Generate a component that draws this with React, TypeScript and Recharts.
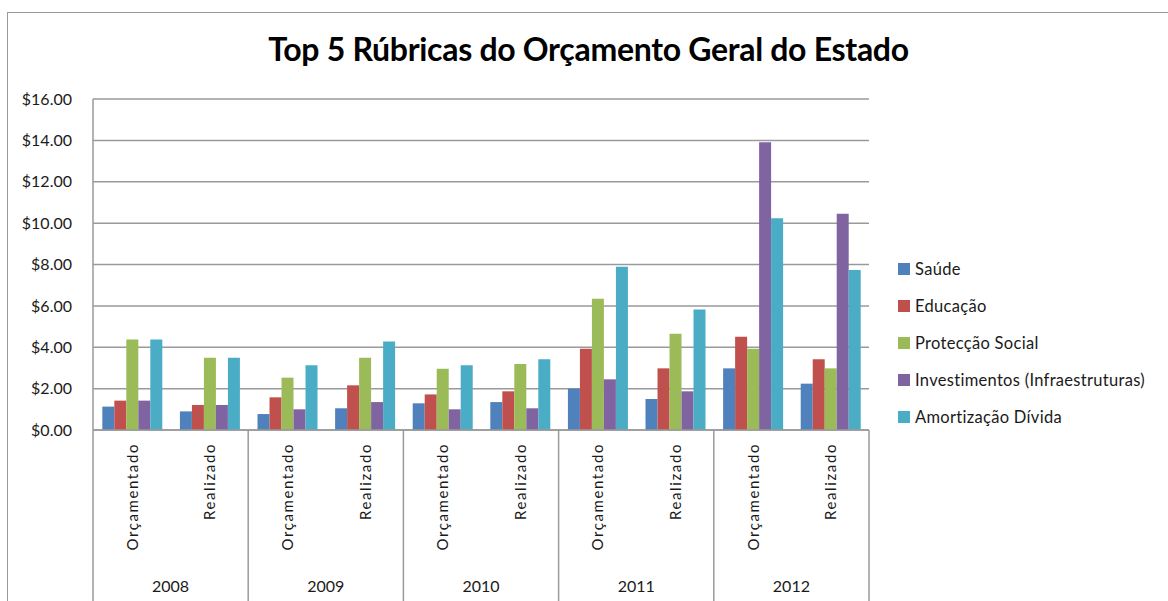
import React from 'react';
import { BarChart, Bar, XAxis, YAxis, CartesianGrid, Legend } from 'recharts';

const categories = [
  'Orçamentado', 'Realizado', 'Orçamentado', 'Realizado', 'Orçamentado',
  'Realizado', 'Orçamentado', 'Realizado', 'Orçamentado', 'Realizado',
];
const years = ['2008', '2008', '2009', '2009', '2010', '2010', '2011', '2011', '2012', '2012'];

const saude = [1.13, 0.9, 0.77, 1.05, 1.29, 1.35, 2.0, 1.5, 2.98, 2.24];
const educacao = [1.42, 1.21, 1.58, 2.16, 1.72, 1.87, 3.93, 2.98, 4.51, 3.42];
const proteccao = [4.38, 3.49, 2.53, 3.49, 2.96, 3.19, 6.34, 4.65, 3.93, 2.98];
const investimentos = [1.42, 1.21, 1.0, 1.35, 1.0, 1.05, 2.45, 1.87, 13.91, 10.45];
const amortizacao = [4.38, 3.49, 3.13, 4.28, 3.13, 3.42, 7.89, 5.83, 10.24, 7.74];

const yTicks = [0, 2, 4, 6, 8, 10, 12, 14, 16];

const series = [
  { key: 'saude', name: 'Saúde', color: '#4F81BD' },
  { key: 'educacao', name: 'Educação', color: '#C0504D' },
  { key: 'proteccao', name: 'Protecção Social', color: '#9BBB59' },
  { key: 'investimentos', name: 'Investimentos (Infraestruturas)', color: '#8064A2' },
  { key: 'amortizacao', name: 'Amortização Dívida', color: '#4BACC6' },
];

const data = categories.map((label, i) => ({
  label,
  year: years[i],
  saude: saude[i],
  educacao: educacao[i],
  proteccao: proteccao[i],
  investimentos: investimentos[i],
  amortizacao: amortizacao[i],
}));

const FONT = 'Lato, "Open Sans", sans-serif';
const LINE = '#9a9a9a';

function CategoryTick(props: any) {
  const { x, y, payload, index } = props;
  const half = payload?.offset ?? 0;
  const i = payload?.index ?? index;
  const last = i === categories.length - 1;
  return (
    <g>
      <text
        transform={`translate(${x},${y + 13}) rotate(-90)`}
        textAnchor="end"
        dominantBaseline="central"
        fontFamily={FONT}
        fontSize={15}
        letterSpacing={1.6}
        fill="#1a1a1a"
      >
        {payload.value}
      </text>
      {i % 2 === 0 && (
        <>
          <line x1={x - half} x2={x - half} y1={y} y2={y + 171} stroke={LINE} strokeWidth={1.5} />
          <text
            x={x + half}
            y={y + 155}
            textAnchor="middle"
            dominantBaseline="central"
            fontFamily={FONT}
            fontSize={16}
            fill="#1a1a1a"
          >
            {years[i]}
          </text>
        </>
      )}
      {last && <line x1={x + half} x2={x + half} y1={y} y2={y + 171} stroke={LINE} strokeWidth={1.5} />}
    </g>
  );
}

// keep legend in series order (Recharts sorts by name otherwise)
function LegendBox(props: any) {
  const items = props.payload || [];
  const ordered = series
    .map((s) => items.find((it: any) => it.dataKey === s.key || it.value === s.name))
    .filter(Boolean);
  return (
    <div style={{ fontFamily: FONT, fontSize: 16.5, letterSpacing: 0.3, color: '#1a1a1a' }}>
      {ordered.map((item: any) => (
        <div key={item.value} style={{ display: 'flex', alignItems: 'center', height: 37, whiteSpace: 'nowrap' }}>
          <span style={{ display: 'inline-block', width: 12, height: 12, background: item.color, marginRight: 5 }} />
          <span>{item.value}</span>
        </div>
      ))}
    </div>
  );
}

export default function App() {
  return (
    <div style={{ position: 'absolute', left: 0, top: 0, width: 1168, height: 601, background: '#fff', overflow: 'hidden' }}>
      <div
        style={{
          position: 'absolute',
          left: 7,
          top: 12,
          width: 1200,
          height: 640,
          border: `1.5px solid ${LINE}`,
        }}
      />
      <div
        style={{
          position: 'absolute',
          left: 0,
          top: 29,
          width: 1177,
          textAlign: 'center',
          fontFamily: FONT,
          fontWeight: 700,
          fontSize: 32,
          letterSpacing: -0.3,
          color: '#000',
        }}
      >
        Top 5 Rúbricas do Orçamento Geral do Estado
      </div>
      <div style={{ position: 'absolute', left: 0, top: 0 }}>
        <BarChart
          width={1168}
          height={601}
          data={data}
          margin={{ top: 99, right: 299, bottom: 0, left: 0 }}
          barCategoryGap="12%"
          barGap={0}
        >
          <CartesianGrid vertical={false} stroke={LINE} strokeWidth={1.5} />
          <XAxis
            dataKey="label"
            height={171}
            interval={0}
            tickLine={false}
            tickSize={0}
            tickMargin={0}
            axisLine={{ stroke: LINE, strokeWidth: 1.5 }}
            tick={<CategoryTick />}
          />
          <YAxis
            width={93}
            domain={[0, 16]}
            ticks={yTicks}
            tickLine={false}
            tickSize={0}
            tickMargin={21}
            axisLine={{ stroke: LINE, strokeWidth: 1.5 }}
            tickFormatter={(v) => `$${Number(v).toFixed(2)}`}
            tick={{ fontFamily: FONT, fontSize: 16, fill: '#1a1a1a' }}
          />
          <Legend
            layout="vertical"
            align="center"
            verticalAlign="middle"
            content={<LegendBox />}
            wrapperStyle={{ left: 898, top: 250, width: 270, height: 190 }}
          />
          {series.map((s) => (
            <Bar key={s.key} dataKey={s.key} name={s.name} fill={s.color} isAnimationActive={false} />
          ))}
        </BarChart>
      </div>
    </div>
  );
}
